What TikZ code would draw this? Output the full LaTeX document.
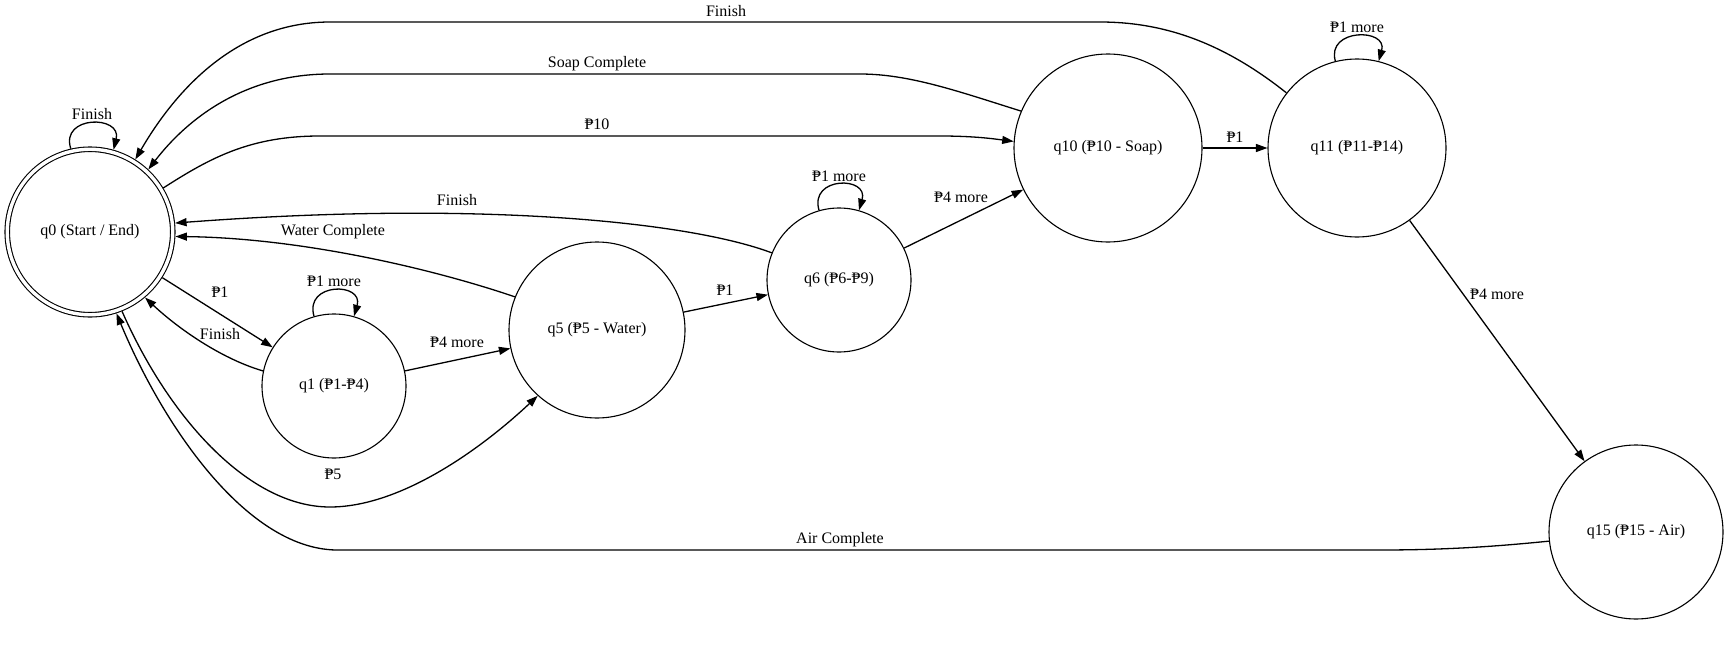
\documentclass[tikz,border=0pt]{standalone}
\usepackage{fontspec}
\setmainfont{Liberation Serif}
\usepackage{tikz}
\usetikzlibrary{arrows.meta,backgrounds}
\newcommand{\peso}[0]{₱}
\tikzstyle{wash}=[
  x=1pt,y=-1pt,line width=1.1pt,font=\fontsize{16}{19}\selectfont
]
\tikzstyle{state}=[
  draw,circle,inner sep=0pt,fill=white
]
\tikzstyle{accept}=[
  state,double,double distance=3.4pt,outer sep=2.8pt
]
\tikzstyle{trans}=[
  -{Triangle[length=11.5pt,width=8pt]},line width=1.3pt
]
\tikzstyle{lbl}=[
  inner sep=0pt
]

\begin{document}
\begin{tikzpicture}[wash]
    \useasboundingbox (0,0) rectangle (1730,669);
        \node (q0) at (90,232) [accept,minimum size=165.5pt] {q0 (Start / End)};
        \node (q1) at (334,386) [state,minimum size=144pt] {q1 (\peso1-\peso4)};
        \node (q5) at (597,330) [state,minimum size=176pt] {q5 (\peso5 - Water)};
        \node (q6) at (839,280) [state,minimum size=144pt] {q6 (\peso6-\peso9)};
        \node (q10) at (1108,148) [state,minimum size=188pt] {q10 (\peso10 - Soap)};
        \node (q11) at (1357,148) [state,minimum size=178pt] {q11 (\peso11-\peso14)};
        \node (q15) at (1636,532) [state,minimum size=174pt] {q15 (\peso15 - Air)};

        \begin{scope}[on background layer]
          \draw [trans] (q0.103) .. controls (60,115) and (122,115) .. (q0.74) node [lbl] at (92,114) {Finish};
          \draw [trans] (q1.106) .. controls (304,282) and (364,282) .. (q1.74) node [lbl] at (334,281) {\peso1 more};
          \draw [trans] (q6.106) .. controls (809,176) and (869,176) .. (q6.74) node [lbl] at (839,176) {\peso1 more};
          \draw [trans] (q11.104) .. controls (1326,28) and (1388,28) .. (q11.76) node [lbl] at (1357,27) {\peso1 more};

          \draw [trans] (q0) -- (q1) node [lbl] at (220,292) {\peso1};
          \draw [trans] (q1.168) .. controls (225,360) and (182,332) .. (q0.-50) node [lbl] at (220,334) {Finish};
          \draw [trans] (q1) -- (q5) node [lbl] at (457,342) {\peso4 more};
          \draw [trans] (q0.-68) .. controls (170,420) and (250,507) .. (330,507)
            .. controls (400,507) and (480,450) .. (q5.-132) node [lbl] at (333,474) {\peso5};
          \draw [trans] (q5.158) .. controls (430,268) and (300,238) .. (q0.-3) node [lbl] at (333,232) {Water Complete};
          \draw [trans] (q5) -- (q6) node [lbl] at (725,290) {\peso1};
          \draw [trans] (q6.158) .. controls (690,222) and (480,200) .. (q0.6) node [lbl] at (457,200) {Finish};
          \draw [trans] (q6) -- (q10) node [lbl] at (961,197) {\peso4 more};
          \draw [trans] (q0.31) .. controls (210,158) and (250,136) .. (320,136) -- (940,136)
            .. controls (975,136) and (995,139) .. (q10.176) node [lbl] at (597,124) {\peso10};
          \draw [trans] (q10.157) .. controls (960,92) and (910,74) .. (860,74) -- (330,74)
            .. controls (245,74) and (188,118) .. (q0.47) node [lbl] at (597,64) {Soap Complete};
          \draw [trans] (q10) -- (q11) node [lbl] at (1235,137) {\peso1};
          \draw [trans] (q11.142) .. controls (1220,40) and (1160,22) .. (1100,22) -- (330,22)
            .. controls (230,22) and (170,100) .. (q0.58) node [lbl] at (726,11) {Finish};
          \draw [trans] (q11) -- (q15) node [lbl] at (1497,294) {\peso4 more};
          \draw [trans] (q15.186) .. controls (1500,546) and (1450,550) .. (1380,550) -- (340,550)
            .. controls (250,552) and (165,430) .. (q0.-72) node [lbl] at (840,540) {Air Complete};
    \end{scope}
\end{tikzpicture}
\end{document}
